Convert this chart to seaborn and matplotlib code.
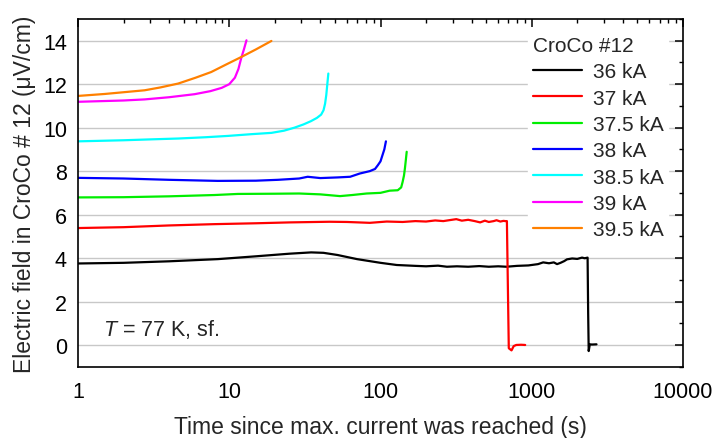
import numpy as np
import pandas as pd
import matplotlib
matplotlib.use("Agg")
import matplotlib.pyplot as plt
import matplotlib.ticker as mticker
import seaborn as sns

# ---------------- data ----------------
series_names = ["36 kA", "37 kA", "37.5 kA", "38 kA", "38.5 kA", "39 kA", "39.5 kA"]
series_colors = ["#000000", "#ff0000", "#00ee00", "#0000ff", "#00ffff", "#ff00ff", "#ff8000"]

t_36 = [1, 2, 4, 8.4, 15, 25, 34.8, 42, 52, 70, 100, 128, 170, 200, 240, 275, 320, 380,
        450, 520, 600, 680, 800, 950, 1100, 1190, 1300, 1400, 1470, 1550, 1640, 1710,
        1850, 2000, 2150, 2240, 2340, 2360, 2380, 2420, 2500, 2680]
E_36 = [3.75, 3.78, 3.85, 3.95, 4.08, 4.2, 4.26, 4.24, 4.14, 3.95, 3.78, 3.68, 3.64, 3.62,
        3.65, 3.6, 3.62, 3.6, 3.63, 3.6, 3.62, 3.6, 3.64, 3.66, 3.72, 3.8, 3.76, 3.8,
        3.72, 3.78, 3.86, 3.94, 3.98, 3.96, 4.02, 3.99, 4.02, 1.5, -0.28, 0.03, 0.02, 0.03]

t_37 = [1, 2, 4, 8, 15, 25, 46, 60, 85, 110, 140, 170, 200, 230, 260, 290, 317, 345,
        380, 420, 456, 490, 520, 560, 585, 620, 650, 670, 685, 705, 735, 760, 790, 850, 905]
E_37 = [5.38, 5.42, 5.5, 5.56, 5.6, 5.64, 5.67, 5.66, 5.62, 5.68, 5.66, 5.7, 5.68, 5.73,
        5.7, 5.75, 5.79, 5.72, 5.76, 5.7, 5.64, 5.72, 5.66, 5.7, 5.74, 5.68, 5.71, 5.7,
        5.7, -0.15, -0.25, -0.05, 0.0, 0.01, 0.0]

t_375 = [1, 2, 4, 8, 11.4, 20, 29, 40, 54, 65, 81, 100, 115, 130, 137, 140, 143, 145, 147, 149]
E_375 = [6.79, 6.8, 6.84, 6.9, 6.95, 6.96, 6.97, 6.93, 6.85, 6.9, 6.97, 7.0, 7.1, 7.12,
         7.25, 7.5, 7.8, 8.12, 8.5, 8.89]

t_38 = [1, 2, 4, 8.4, 15, 21, 29, 33, 40, 52, 63, 73, 85, 92, 96, 100, 103, 106, 108.6]
E_38 = [7.69, 7.66, 7.6, 7.55, 7.56, 7.6, 7.66, 7.74, 7.68, 7.71, 7.74, 7.89, 8.0, 8.1,
        8.27, 8.45, 8.73, 9.0, 9.37]

t_385 = [1, 2, 3, 4.6, 7, 9.8, 14, 19, 23, 27, 31, 34.7, 38, 40.5, 42, 43, 43.8, 44.5, 45.2]
E_385 = [9.37, 9.42, 9.46, 9.5, 9.56, 9.62, 9.7, 9.76, 9.86, 10.0, 10.15, 10.3, 10.45,
         10.6, 10.8, 11.1, 11.5, 12.0, 12.49]

t_39 = [1, 2, 2.76, 4, 5.9, 7.5, 8.9, 10, 10.9, 11.5, 12.0, 12.5, 13.0]
E_39 = [11.19, 11.25, 11.3, 11.4, 11.54, 11.68, 11.83, 12.0, 12.3, 12.7, 13.2, 13.6, 14.02]

t_395 = [1, 1.5, 2, 2.76, 3.5, 4.6, 6, 7.6, 9.5, 12, 15, 19]
E_395 = [11.46, 11.55, 11.63, 11.72, 11.85, 12.03, 12.3, 12.56, 12.9, 13.25, 13.6, 13.99]

all_t = [t_36, t_37, t_375, t_38, t_385, t_39, t_395]
all_E = [E_36, E_37, E_375, E_38, E_385, E_39, E_395]

x_ticks = [1, 10, 100, 1000, 10000]
x_tick_labels = ["1", "10", "100", "1000", "10000"]
y_ticks = [0, 2, 4, 6, 8, 10, 12, 14]

# ---------------- build long-form table ----------------
frames = []
for name, t, E in zip(series_names, all_t, all_E):
    frames.append(pd.DataFrame({"t": t, "E": E, "series": name}))
df = pd.concat(frames, ignore_index=True)

# ---------------- style ----------------
sns.set_style("white")
plt.rcParams["font.family"] = ["Liberation Sans", "DejaVu Sans"]
plt.rcParams["mathtext.fontset"] = "custom"
plt.rcParams["mathtext.rm"] = "Liberation Sans"
plt.rcParams["mathtext.it"] = "Liberation Sans:italic"
FS_TICK = 15.5
FS_LABEL = 16.5
FS_LEG = 15

fig = plt.figure(figsize=(7.16, 4.39), dpi=100)
ax = fig.add_axes([78 / 716, 1 - 367.7 / 439, (683 - 78) / 716, (367.7 - 20) / 439])

palette = dict(zip(series_names, series_colors))
sns.lineplot(data=df, x="t", y="E", hue="series", hue_order=series_names,
             palette=palette, sort=False, estimator=None, units="series",
             linewidth=1.6, ax=ax, legend=True)

ax.set_xscale("log")
ax.set_xlim(1, 10000)
ax.set_ylim(-1, 15)

ax.set_xticks(x_ticks)
ax.set_xticklabels(x_tick_labels)
ax.xaxis.set_minor_locator(mticker.LogLocator(base=10, subs=np.arange(2, 10), numticks=20))
ax.xaxis.set_minor_formatter(mticker.NullFormatter())
ax.set_yticks(y_ticks)
ax.yaxis.set_minor_locator(mticker.MultipleLocator(1))

ax.yaxis.grid(True, which="major", color="#c8c8c8", linewidth=1.0)
ax.xaxis.grid(False)
ax.set_axisbelow(True)

ax.tick_params(axis="both", which="both", direction="in", top=True, right=True,
               labelsize=FS_TICK, colors="black")
ax.tick_params(which="major", length=6, width=1.1)
ax.tick_params(axis="x", which="major", pad=10)
ax.tick_params(axis="y", which="major", pad=8)
ax.tick_params(which="minor", length=3, width=1.0)
for s in ax.spines.values():
    s.set_color("black")
    s.set_linewidth(1.2)

ax.set_xlabel("Time since max. current was reached (s)", fontsize=FS_LABEL, labelpad=10)
ax.set_ylabel("Electric field in CroCo # 12 (μV/cm)", fontsize=FS_LABEL, labelpad=5)

ax.text(1.46, 0.77, r"$T$ = 77 K, sf.", fontsize=FS_TICK, va="center", ha="left")

handles, labels = ax.get_legend_handles_labels()
leg = ax.legend(handles, labels, title="CroCo #12", loc="upper left",
                bbox_to_anchor=(0.7446, 0.9626), borderaxespad=0,
                fontsize=FS_LEG, title_fontsize=FS_LEG, frameon=True, framealpha=1,
                facecolor="white", edgecolor="white", fancybox=False,
                handlelength=2.36, handletextpad=0.53, labelspacing=0.35,
                borderpad=0.2)
leg._legend_box.align = "left"
for line in leg.get_lines():
    line.set_linewidth(1.6)

fig.savefig("out.png", dpi=100)
